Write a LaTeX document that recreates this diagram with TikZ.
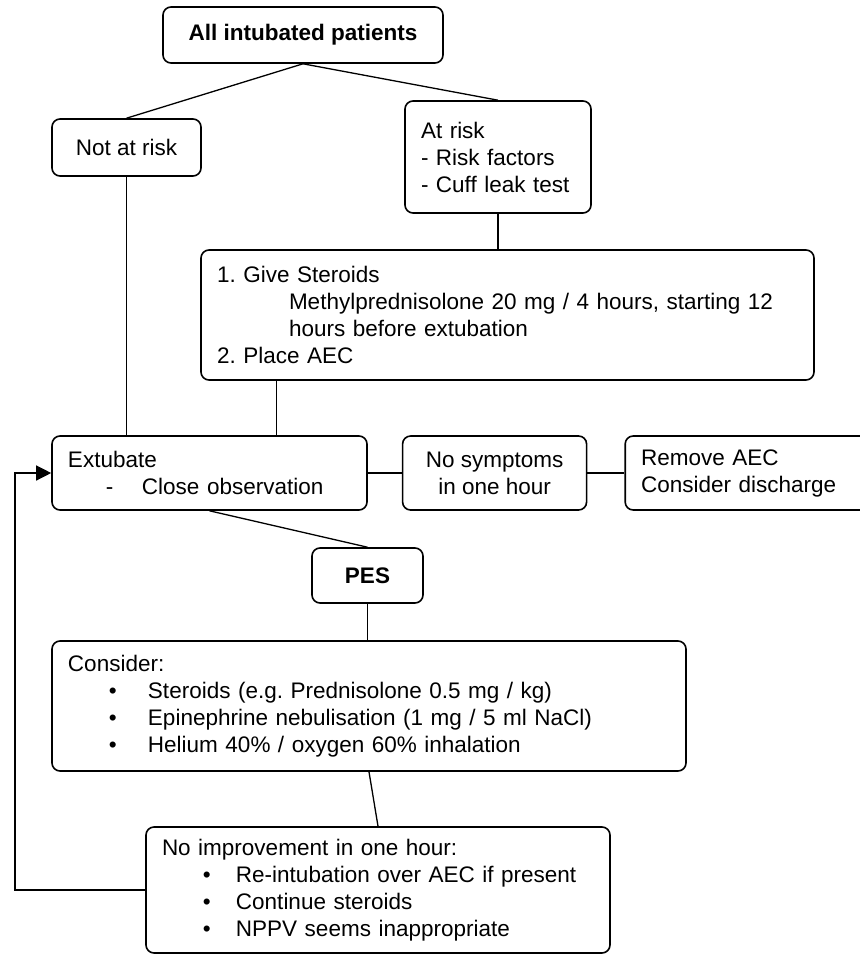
\documentclass[tikz,border=0pt]{standalone}
\usepackage{fontspec}
\setmainfont{Liberation Sans}
\usetikzlibrary{arrows.meta, positioning, calc}

\newcommand{\bul}[1]{\hspace*{20.5pt}\makebox[#1][l]{\textbullet}}

\begin{document}
\begin{tikzpicture}[
    x=0.5pt, y=-0.5pt,
    font=\fontsize{11.25}{13.5}\selectfont\frenchspacing,
    flowbox/.style={rectangle, draw=black, fill=white, rounded corners=4pt, line width=0.8pt, inner xsep=8pt, inner ysep=3pt, align=left},
    titlebox/.style={flowbox, align=center, font=\fontsize{11.25}{13.5}\selectfont\bfseries},
    link/.style={draw=black, line width=0.65pt},
    arrow/.style={link, -{Triangle[length=7.5pt, width=7.5pt]}}
  ]
  \useasboundingbox (0,0) rectangle (860,954);
  \clip (0,0) rectangle (860,954);

  % Node 1: all patients
  \node[titlebox, minimum width=140pt, minimum height=28pt] (all) at (303,35) {All intubated patients};

  % Node 2: risk split
  \node[flowbox, align=center, minimum width=74.5pt, minimum height=28.5pt] (norisk) at (126.5,147.5) {Not at risk};
  \node[flowbox, text width=77pt, minimum height=56pt] (atrisk) at (498,157) {At risk\\- Risk factors\\- Cuff leak test};

  % Node 3: preparation
  \node[flowbox, text width=290.5pt, minimum height=65pt] (steroids) at (507.5,315) {
    1. Give Steroids\\
    \hspace*{36pt}Methylprednisolone 20 mg / 4 hours, starting 12\\
    \hspace*{36pt}hours before extubation\\
    2. Place AEC
  };

  % Node 4: extubation row
  \node[flowbox, text width=141.5pt, minimum height=37pt] (extubate) at (209.5,473) {Extubate\\\hspace*{19pt}\makebox[18pt][l]{-}Close observation};
  \node[flowbox, align=center, minimum width=92pt, minimum height=37pt, right=17pt of extubate] (nosymp) {No symptoms\\in one hour};
  \node[flowbox, text width=114pt, minimum height=37pt, right=18.5pt of nosymp] (remove) {Remove AEC\\Consider discharge};

  % Node 5: PES
  \node[titlebox, minimum width=55.5pt, minimum height=27.5pt] (pes) at (367.5,575.5) {PES};

  % Node 6: treatment
  \node[flowbox, text width=301pt, minimum height=65pt] (consider) at (369,706) {
    Consider:\\
    \bul{19.5pt}Steroids (e.g. Prednisolone 0.5 mg / kg)\\
    \bul{19.5pt}Epinephrine nebulisation (1 mg / 5 ml NaCl)\\
    \bul{19.5pt}Helium 40\% / oxygen 60\% inhalation
  };

  % Node 7: failure
  \node[flowbox, text width=216pt, minimum height=63pt] (noimprove) at (378,890) {
    No improvement in one hour:\\
    \bul{16.5pt}Re-intubation over AEC if present\\
    \bul{16.5pt}Continue steroids\\
    \bul{16.5pt}NPPV seems inappropriate
  };

  % Connections
  \draw[link] (all.south) -- (norisk.north);
  \draw[link] (all.south) -- (atrisk.north);
  \draw[link] (norisk.south) -- (norisk.south |- extubate.north);
  \draw[link] (atrisk.south) -- (atrisk.south |- steroids.north);
  \draw[link] ([xshift=-45.5pt]extubate.north east |- steroids.south) -- ([xshift=-45.5pt]extubate.north east);

  \draw[link] (extubate) -- (nosymp);
  \draw[link] (nosymp) -- (remove);

  \draw[link] (extubate.south) -- (pes.north);
  \draw[link] (pes.south) -- (pes.south |- consider.north);
  \draw[link] (consider.south) -- (noimprove.north);

  \coordinate (back) at (15,892);
  \draw[arrow] (noimprove.west) -- (noimprove.west -| back) |- (extubate.west);
\end{tikzpicture}
\end{document}
